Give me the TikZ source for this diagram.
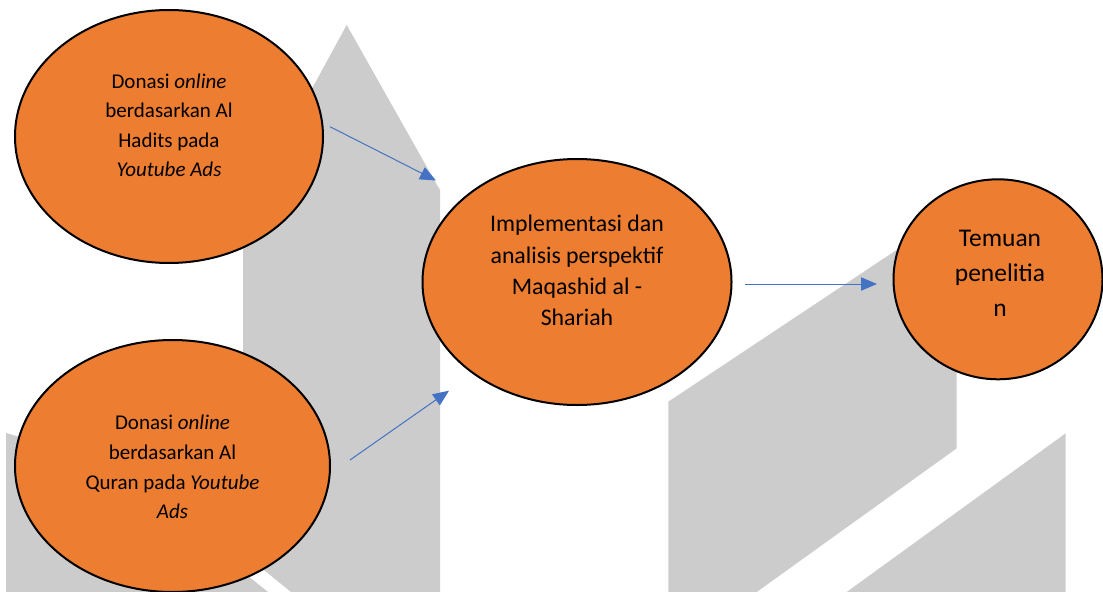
\documentclass[tikz,border=0pt]{standalone}
\usepackage{fontspec}
\setmainfont{Carlito}
\usetikzlibrary{arrows.meta,shapes.geometric}
\definecolor{orangefill}{HTML}{ED7D31}
\definecolor{arrowblue}{HTML}{4472C4}
\definecolor{wmgray}{HTML}{CCCCCC}
\begin{document}
\begin{tikzpicture}[x=0.75pt,y=-0.75pt,
  bubble/.style={ellipse,draw=black,line width=1.5pt,fill=orangefill,inner sep=0pt,outer sep=0pt},
  txtsmall/.style={anchor=base,align=center,inner sep=0pt,font=\fontsize{15.75pt}{22.2pt}\selectfont},
  txtmid/.style={anchor=base,align=center,inner sep=0pt,font=\fontsize{17.85pt}{23.5pt}\selectfont},
  txtbig/.style={anchor=base,align=center,inner sep=0pt,font=\fontsize{19.1pt}{26.5pt}\selectfont},
  flow/.style={draw=arrowblue,line width=0.75pt,-{Triangle[length=12pt,width=10pt,fill=arrowblue]}},
  wm/.style={fill=wmgray,draw=none}]
\useasboundingbox (0,0) rectangle (1103,592);
\fill[white] (0,0) rectangle (1103,592);
% watermark shapes
\path[wm] (243,215) -- (346.7,25) -- (437,185) -- (440,190) -- (440,592) -- (291,592) -- (243,553) -- cycle;
\path[wm] (6,433) -- (30,440) -- (150,497) -- (268,592) -- (6,592) -- cycle;
\path[wm] (668.3,401.7) -- (956.7,210) -- (956.7,448.3) -- (756.7,592) -- (668.3,592) -- cycle;
\path[wm] (1065.7,433.3) -- (1065.7,592) -- (846.7,592) -- cycle;
% bubbles
\node[bubble,minimum width=231pt,minimum height=189.75pt] (e1) at (169,136.5) {};
\node[bubble,minimum width=236.25pt,minimum height=189pt] (e2) at (172.5,466) {};
\node[bubble,minimum width=231.75pt,minimum height=184.5pt] (e3) at (577,282) {};
\node[bubble,minimum width=156.75pt,minimum height=150pt] (e4) at (998,279.3) {};
% texts (base anchor = baseline of last line)
\node[txtsmall] (t1) at (169,176.8) {Donasi \textit{online}\\berdasarkan Al\\Hadits pada\\\textit{Youtube Ads}};
\node[txtsmall] (t2) at (172.5,518.6) {Donasi \textit{online}\\berdasarkan Al\\Quran pada \textit{Youtube}\\\textit{Ads}};
\node[txtmid] (t3) at (577,325.7) {Implementasi dan\\analisis perspektif\\Maqashid al -\\Shariah};
\node[txtbig] (t4) at (1000,316.7) {Temuan\\penelitia\\n};
% arrows
\coordinate (a1s) at (330,126.7);
\coordinate (a1e) at (436,180.5);
\coordinate (a2s) at (350,460);
\coordinate (a2e) at (449,390.7);
\coordinate (a3s) at (745,284);
\coordinate (a3e) at (877,284);
\draw[flow] (a1s) -- (a1e);
\draw[flow] (a2s) -- (a2e);
\draw[flow] (a3s) -- (a3e);
\end{tikzpicture}
\end{document}
